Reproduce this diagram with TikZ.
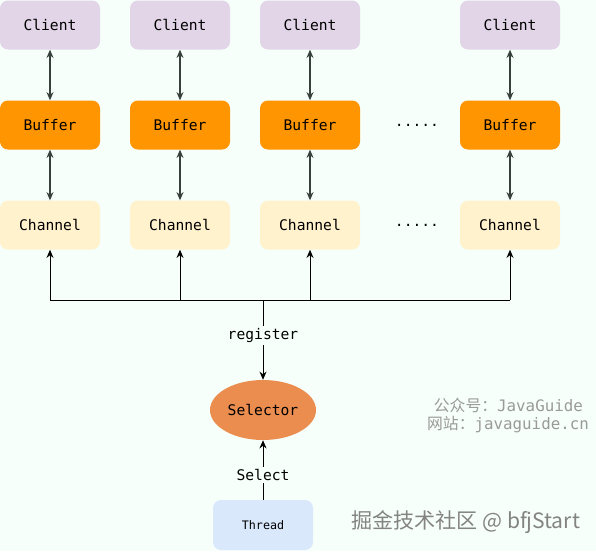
\documentclass[tikz,border=0pt]{standalone}
\usepackage{fontspec}
\setmonofont{DejaVu Sans Mono}
\newfontfamily\cjk{Noto Sans CJK SC}
\usepackage{xcolor}
\definecolor{MintBg}{HTML}{F6FFFA}
\definecolor{ClientLilac}{HTML}{E1D5E7}
\definecolor{BufferOrange}{HTML}{FF9500}
\definecolor{ChannelCream}{HTML}{FFF2CC}
\definecolor{SelectorOrange}{HTML}{EA8D4F}
\definecolor{ThreadBlue}{HTML}{DAE8FC}
\definecolor{LinkGray}{HTML}{36403C}
\definecolor{MarkGray}{HTML}{9A9A9A}
\usetikzlibrary{arrows.meta,shapes.geometric}

\begin{document}
\begin{tikzpicture}[x=0.03cm, y=-0.03cm,
        box/.style={rounded corners=0.24cm, minimum width=3cm, minimum height=1.47cm,
            inner sep=0pt, font=\ttfamily\fontsize{12.5}{14}\selectfont, text=black},
        client/.style={box, fill=ClientLilac},
        buffer/.style={box, fill=BufferOrange},
        channel/.style={box, fill=ChannelCream},
        link/.style={{Stealth[length=7pt,width=6pt]}-{Stealth[length=7pt,width=6pt]}, line width=0.9pt, LinkGray},
        up/.style={-{Stealth[length=7pt,width=6pt]}, line width=0.8pt, black},
        tag/.style={fill=MintBg, inner sep=2pt, font=\ttfamily\fontsize{12.5}{14}\selectfont},
        dots/.style={font=\ttfamily\fontsize{12.5}{14}\selectfont}
    ]
        % Mint backdrop that also fixes the page size
        \fill[MintBg] (0,0) rectangle (596,551);
        \useasboundingbox (0,0) rectangle (596,551);

        % Client, buffer and channel columns
        \foreach \i/\x in {1/50,2/180,3/310,4/510} {
            \node[client] (c\i) at (\x,25) {Client};
            \node[buffer] (b\i) at (\x,125) {Buffer};
            \node[channel] (h\i) at (\x,225) {Channel};
            \draw[link] (c\i) -- (b\i);
            \draw[link] (b\i) -- (h\i);
        }
        \node[dots] (d1) at (417,125) {.....};
        \node[dots] (d2) at (417,225) {.....};

        % Bus shared by all channels
        \coordinate (busL) at (50,300);
        \coordinate (busR) at (510,300);
        \coordinate (busS) at (263,300);
        \draw[line width=0.8pt] (busL) -- (busR);
        \foreach \i in {1,...,4} {
            \draw[up] (h\i.south |- busL) -- (h\i.south);
        }

        % Selector and the thread that polls it
        \node[ellipse, fill=SelectorOrange, minimum width=3.18cm, minimum height=1.8cm, inner sep=0pt,
            font=\ttfamily\fontsize{12.5}{14}\selectfont] (sel) at (263,410) {Selector};
        \node[box, fill=ThreadBlue, font=\ttfamily\fontsize{10}{12}\selectfont, minimum height=1.5cm] (thr) at (263,525) {Thread};
        \draw[up] (busS) -- node[tag, pos=0.44] {register} (sel.north);
        \draw[up] (thr.north) -- node[tag, pos=0.42] {Select} (sel.south);

        % Watermarks
        \node[anchor=east, text=MarkGray, font=\fontsize{13.5}{15}\selectfont] (wm1) at (587,405) {{\cjk 公众号：}\texttt{JavaGuide}};
        \node[anchor=east, text=MarkGray, font=\fontsize{13.5}{15}\selectfont] (wm2) at (593,425) {{\cjk 网站：}\texttt{javaguide.cn}};
        \node[anchor=west, text=MarkGray!85!black, font=\cjk\fontsize{18}{20}\selectfont] (wm3) at (347,522) {掘金技术社区 @ bfjStart};
    \end{tikzpicture}
\end{document}
